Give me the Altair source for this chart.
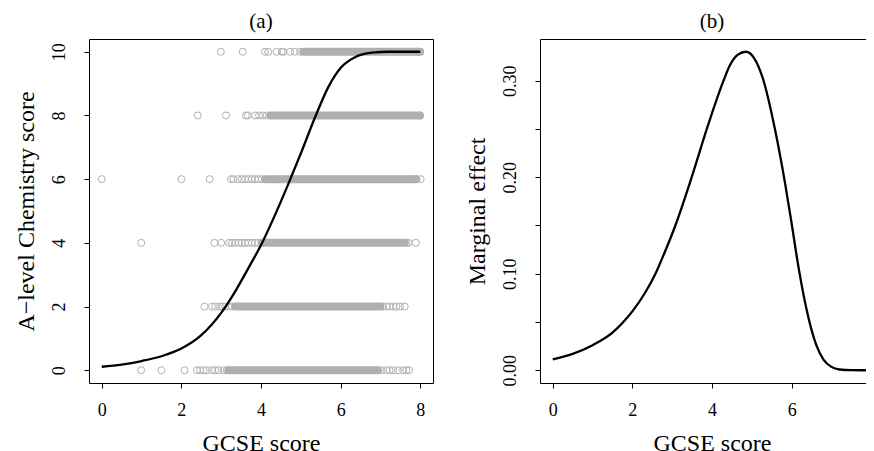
import altair as alt
import pandas as pd

FONT = "Liberation Serif"
GREY = "#b0b0b0"

# ---------------- data ----------------
levels = [0, 2, 4, 6, 8, 10]
# dense runs of overlapping circles (start / end x on each score level)
band_start = [3.18, 3.35, 4.02, 4.10, 4.23, 5.06]
band_end = [6.94, 7.00, 7.61, 7.90, 7.99, 8.00]

# individually visible circles on each level
pts0_x = [0.99, 1.50, 2.08, 2.39, 2.47, 2.56, 2.64, 2.77, 2.85, 2.93, 3.06, 3.14,
          7.03, 7.15, 7.23, 7.32, 7.44, 7.57, 7.65, 7.72]
pts2_x = [2.58, 2.77, 2.85, 2.97, 3.04, 3.10, 3.18, 3.27,
          7.05, 7.15, 7.23, 7.32, 7.40, 7.49, 7.61]
pts4_x = [0.99, 2.83, 3.00, 3.20, 3.27, 3.35, 3.44, 3.52, 3.60, 3.68, 3.77, 3.85, 3.93,
          7.65, 7.71, 7.89]
pts6_x = [0.00, 2.00, 2.71, 3.25, 3.31, 3.42, 3.52, 3.60, 3.68, 3.77, 3.85, 3.93, 4.02,
          7.82, 7.90, 8.01]
pts8_x = [2.41, 3.12, 3.62, 3.67, 3.85, 3.95, 4.04, 4.14, 7.99]
pts10_x = [2.99, 3.54, 4.10, 4.18, 4.39, 4.52, 4.56, 4.73, 4.85, 4.98, 7.96]

# fitted curve, panel (a)
curve_a_x = [0.0, 0.5, 1.0, 1.5, 2.0, 2.5, 3.0, 3.35, 3.68, 4.02, 4.35, 4.69,
             5.03, 5.36, 5.69, 6.02, 6.36, 6.78, 7.2, 8.0]
curve_a_y = [0.11, 0.18, 0.29, 0.44, 0.68, 1.10, 1.80, 2.47, 3.20, 3.98, 4.87, 5.86,
             6.90, 7.95, 8.89, 9.52, 9.83, 9.97, 10.0, 10.0]

# marginal effect, panel (b)
curve_b_x = [0.0, 0.5, 1.0, 1.5, 1.75, 2.0, 2.3, 2.58, 2.8, 3.08, 3.49, 3.87, 4.28,
             4.45, 4.65, 4.85, 5.05, 5.28, 5.58, 5.83, 6.0, 6.18, 6.37, 6.62, 6.8,
             7.0, 7.2, 7.5, 8.0]
curve_b_y = [0.0114, 0.017, 0.026, 0.039, 0.049, 0.061, 0.079, 0.100, 0.121, 0.150,
             0.200, 0.250, 0.299, 0.316, 0.327, 0.330, 0.324, 0.302, 0.250, 0.195,
             0.152, 0.105, 0.064, 0.026, 0.011, 0.0035, 0.0008, 0.0001, 0.0]

x_ticks = [0, 2, 4, 6, 8]
ya_ticks = [0, 2, 4, 6, 8, 10]
yb_ticks = [0.0, 0.05, 0.10, 0.15, 0.20, 0.25, 0.30]

# ---------------- tables ----------------
band_df = pd.DataFrame({"y": levels, "x0": band_start, "x1": band_end})
pts_rows = []
for lvl, xs in zip(levels, [pts0_x, pts2_x, pts4_x, pts6_x, pts8_x, pts10_x]):
    for v in xs:
        pts_rows.append({"x": v, "y": lvl})
pts_df = pd.DataFrame(pts_rows)
ca_df = pd.DataFrame({"x": curve_a_x, "y": curve_a_y})
cb_df = pd.DataFrame({"x": curve_b_x, "y": curve_b_y})

W, H = 344, 344
xscale = alt.Scale(domain=[-0.32, 8.32], nice=False, zero=False)


def x_axis():
    return alt.Axis(values=x_ticks, title="GCSE score", grid=False, domain=False,
                    tickSize=5, labelPadding=13, labelFontSize=18, titleFontSize=24,
                    titleBaseline="alphabetic", titleY=67, format="d")


def y_axis(title, values, label_expr=None):
    kw = dict(values=values, title=title, grid=False, domain=False, tickSize=5,
              labelAngle=270, labelAlign="center", labelBaseline="alphabetic",
              labelPadding=20, labelFontSize=18, titleFontSize=24, titleAngle=270,
              titleBaseline="alphabetic", titleX=-56)
    if label_expr:
        kw["labelExpr"] = label_expr
    return alt.Axis(**kw)


def ptitle(txt):
    return alt.TitleParams(txt, font=FONT, fontSize=21, fontWeight="normal",
                           baseline="alphabetic", offset=-10, color="black", frame="group")


ya_scale = alt.Scale(domain=[-0.4, 10.4], nice=False, zero=False)
ya = alt.Y("y:Q", scale=ya_scale, axis=y_axis("A\u2212level Chemistry score", ya_ticks))

bands = alt.Chart(band_df).mark_rule(color=GREY, strokeWidth=8, strokeCap="round").encode(
    x=alt.X("x0:Q", scale=xscale, axis=x_axis()), x2="x1:Q", y=ya)
pts = alt.Chart(pts_df).mark_point(shape="circle", size=49, filled=False, color=GREY,
                                   strokeWidth=1, opacity=1).encode(
    x=alt.X("x:Q", scale=xscale, axis=x_axis()), y=ya)
line_a = alt.Chart(ca_df).mark_line(color="black", strokeWidth=2.3, interpolate="monotone").encode(
    x=alt.X("x:Q", scale=xscale, axis=x_axis()), y=ya)

panel_a = alt.layer(bands, pts, line_a).properties(width=W, height=H, title=ptitle("(a)"))

yb = alt.Y("y:Q", scale=alt.Scale(domain=[-0.0132, 0.3432], nice=False, zero=False),
           axis=y_axis("Marginal effect", yb_ticks,
                       "abs(round(datum.value*100)) % 10 == 0 ? format(datum.value, '.2f') : ''"))
panel_b = alt.Chart(cb_df).mark_line(color="black", strokeWidth=2.3, interpolate="monotone").encode(
    x=alt.X("x:Q", scale=xscale, axis=x_axis()), y=yb
).properties(width=W, height=H, title=ptitle("(b)"))

chart = alt.hconcat(panel_a, panel_b, spacing=107, bounds="flush").properties(
    padding={"left": 5, "top": 2, "right": -19, "bottom": 0}
).configure(
    font=FONT, background="white"
).configure_view(
    stroke="black", strokeWidth=1
).configure_axis(
    labelFont=FONT, titleFont=FONT, labelColor="black", titleColor="black",
    tickColor="black", titleFontWeight="normal"
)

chart.save("out.html", embed_options={"renderer": "svg", "actions": False})
